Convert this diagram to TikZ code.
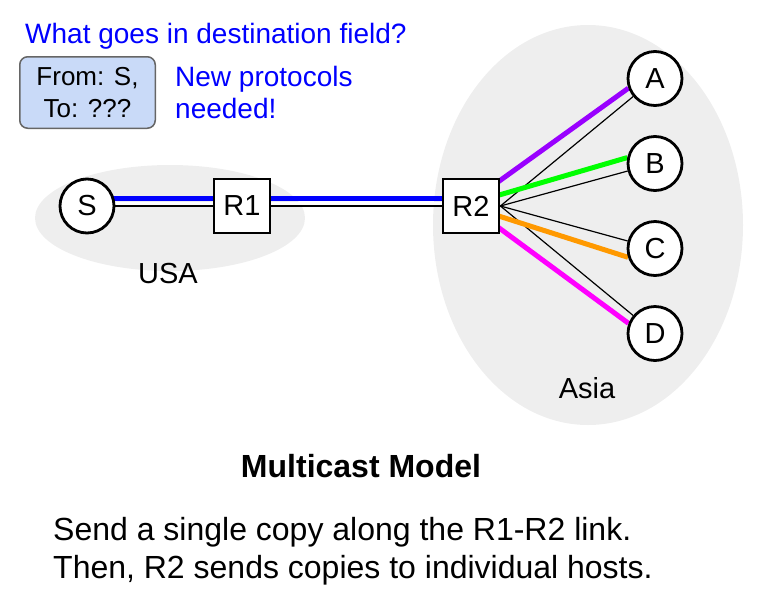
\documentclass[tikz,border=0pt]{standalone}
\usepackage{fontspec}
\setmainfont{Liberation Sans}
\usetikzlibrary{arrows,positioning,backgrounds}
\definecolor{regiongray}{HTML}{EEEEEE}
\definecolor{pktblue}{HTML}{C9DAF8}
\definecolor{pktgray}{HTML}{666666}
\definecolor{cpurple}{HTML}{9900FF}
\definecolor{cgreen}{HTML}{00FF00}
\definecolor{corange}{HTML}{FF9900}
\definecolor{cmagenta}{HTML}{FF00FF}

\begin{document}
\begin{tikzpicture}[x=1pt,y=-1pt,node distance=85pt,
	host/.style={circle,draw,line width=2.8pt,fill=white,minimum size=54pt,
		inner sep=0pt,font=\fontsize{29}{29}\selectfont},
	router/.style={rectangle,draw,line width=2.8pt,fill=white,minimum width=56pt,
		minimum height=54pt,inner sep=0pt,font=\fontsize{29}{29}\selectfont},
	link/.style={line width=1.2pt},
	copy/.style={line width=5pt},
	note/.style={text=blue,inner sep=0pt,font=\fontsize{28}{32}\selectfont}]
	\useasboundingbox (0,0) rectangle (763,603);
	
	\node[host](S) at (87,206){S};
	\node[router](R1)[right of=S,node distance=155pt]{R1};
	\node[router](R2)[right of=R1,node distance=229pt]{R2};
	\node[host](A) at (655,78.5){A};
	\node[host](B)[below of=A]{B};
	\node[host](C)[below of=B]{C};
	\node[host](D)[below of=C]{D};
	
	\begin{scope}[on background layer]
	\fill[regiongray] (170,218) ellipse [x radius=135pt, y radius=53pt];
	\fill[regiongray] (588,225) ellipse [x radius=155pt, y radius=200pt];
	\path[link] (S) edge (R1)
	      (R1) edge (R2)
	      (R2.east) edge (A)
	      (R2.east) edge (B)
	      (R2.east) edge (C)
	      (R2.east) edge (D);
	\draw[white,line width=3pt] ([yshift=3pt]S.center) -- ([yshift=3pt]R2.center);
	\draw[copy,blue] ([yshift=7.5pt]S.center) -- ([yshift=7.5pt]R2.center);
	\draw[copy,cpurple] ([xshift=-8pt,yshift=20pt]R2.east) -- (A.200);
	\draw[copy,cgreen] ([xshift=-8pt,yshift=9pt]R2.east) -- (B.168);
	\draw[copy,corange] ([xshift=-8pt,yshift=-8pt]R2.east) -- (C.198);
	\draw[copy,cmagenta] ([xshift=-8pt,yshift=-17pt]R2.east) -- (D.159);
	\end{scope}
	
	\node[font=\fontsize{29}{29}\selectfont](usa) at (168,274){USA};
	\node[font=\fontsize{29}{29}\selectfont](asia) at (587,388){Asia};
	
	% packet header
	\node[note,anchor=base west](question) at (25,43){What goes in destination field?};
	\node[draw=pktgray,line width=1.5pt,rounded corners=8pt,fill=pktblue,
		minimum width=135.5pt,minimum height=71.5pt,align=center,
		font=\fontsize{26}{32}\selectfont](pkt) at (87.5,92.5){From: S,\\To: ???};
	\node[note,anchor=base west,align=left](needed) at (175,118){New protocols\\needed!};
	
	\node[font=\bfseries\fontsize{32}{32}\selectfont,anchor=base](model) at (361,477){Multicast Model};
	\node[anchor=base west,inner sep=0pt,font=\fontsize{32}{32}\selectfont](send) at (53,540){Send a single copy along the R1-R2 link.};
	\node[anchor=base west,inner sep=0pt,font=\fontsize{32}{32}\selectfont](then) at (53,578){Then, R2 sends copies to individual hosts.};
\end{tikzpicture}
\end{document}
